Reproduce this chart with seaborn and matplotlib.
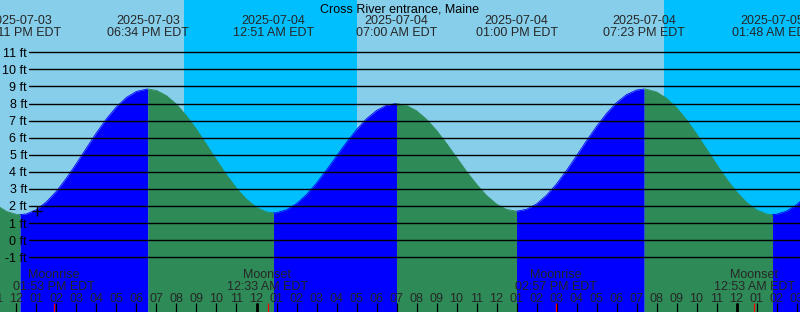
import numpy as np
import pandas as pd
import matplotlib
matplotlib.use("Agg")
import matplotlib.pyplot as plt
import seaborn as sns

# ---------------- data ----------------
title = "Cross River entrance, Maine"

# time in hours since 2025-07-03 00:00 EDT, tide level in feet
tide_hours = [11, 11.5, 12, 12.183, 12.5, 13, 13.5, 14, 14.5, 15, 15.5, 16, 16.5, 17,
              17.5, 18, 18.5, 18.567, 19, 19.5, 20, 20.5, 21, 21.5, 22, 22.5, 23, 23.5,
              24, 24.5, 24.85, 25, 25.5, 26, 26.5, 27, 27.5, 28, 28.5, 29, 29.5, 30,
              30.5, 31.0, 31.5, 32, 32.5, 33, 33.5, 34, 34.5, 35, 35.5, 36, 36.5, 37.0,
              37.5, 38, 38.5, 39, 39.5, 40, 40.5, 41, 41.5, 42, 42.5, 43, 43.383, 43.5,
              44, 44.5, 45, 45.5, 46, 46.5, 47, 47.5, 48, 48.5, 49, 49.5, 49.8, 50,
              50.5, 51, 51.5, 52]
tide_feet = [2.05, 1.69, 1.51, 1.50, 1.54, 1.79, 2.25, 2.87, 3.64, 4.50, 5.40, 6.29,
             7.11, 7.81, 8.36, 8.71, 8.84, 8.85, 8.77, 8.46, 7.96, 7.28, 6.49, 5.60,
             4.70, 3.83, 3.04, 2.40, 1.92, 1.66, 1.60, 1.61, 1.78, 2.14, 2.67, 3.34,
             4.11, 4.92, 5.73, 6.47, 7.11, 7.59, 7.90, 8.00, 7.89, 7.58, 7.08, 6.43,
             5.67, 4.85, 4.03, 3.28, 2.62, 2.12, 1.81, 1.70, 1.81, 2.12, 2.63, 3.29,
             4.08, 4.94, 5.82, 6.66, 7.42, 8.05, 8.52, 8.79, 8.85, 8.84, 8.68, 8.31,
             7.76, 7.05, 6.23, 5.34, 4.45, 3.59, 2.84, 2.22, 1.78, 1.54, 1.50, 1.52,
             1.70, 2.07, 2.60, 3.27]

extreme_hours = [12.183, 18.567, 24.85, 31.0, 37.0, 43.383, 49.8]
extreme_dates = ["2025-07-03", "2025-07-03", "2025-07-04", "2025-07-04",
                 "2025-07-04", "2025-07-04", "2025-07-05"]
extreme_clock = ["12:11 PM EDT", "06:34 PM EDT", "12:51 AM EDT", "07:00 AM EDT",
                 "01:00 PM EDT", "07:23 PM EDT", "01:48 AM EDT"]

moon_hours = [13.883, 24.55, 38.95, 48.883]
moon_events = ["Moonrise", "Moonset", "Moonrise", "Moonset"]
moon_clock = ["01:53 PM EDT", "12:33 AM EDT", "02:57 PM EDT", "12:53 AM EDT"]

night_start = [20.375, 44.375]
night_end = [29.01, 60.0]

now_hour = [13.04]
now_feet = [1.74]

level_ticks = list(range(-1, 12))
hour_ticks = list(range(11, 52))
midnight_hours = [24, 48]

# ---------------- style ----------------
sns.set_style("white")
plt.rcParams['font.family'] = ['Liberation Sans', 'DejaVu Sans']

DAY = "#87CEEB"
NIGHT = "#00BFFF"
FLOOD = "#0000FF"
EBB = "#2E8B57"

W, H = 800, 312
fig = plt.figure(figsize=(W / 100, H / 100), dpi=100)
ax = fig.add_axes([0, 0, 1, 1])
x0 = 11.175
ybot, ytop = -4.20, 14.06
fig.patch.set_facecolor(DAY)
ax.axvspan(x0 - 5, x0 + 45, color=DAY, zorder=0, lw=0)
for s, e in zip(night_start, night_end):
    ax.axvspan(s, e, color=NIGHT, zorder=0.5, lw=0)

df = pd.DataFrame({"hour": tide_hours, "feet": tide_feet})
rising = np.diff(df["feet"].values) > 0
# split into monotonic runs
runs = []
start = 0
for i in range(1, len(rising)):
    if rising[i] != rising[start]:
        runs.append((start, i, rising[start]))
        start = i
runs.append((start, len(rising), rising[start]))
for a, b, up in runs:
    seg = df.iloc[a:b + 1]
    col = FLOOD if up else EBB
    ax.fill_between(seg["hour"], seg["feet"], ybot - 5, color=col, lw=0, zorder=1)
    sns.lineplot(data=seg, x="hour", y="feet", color=col, lw=0.6, ax=ax,
                 zorder=1.1, legend=False, sort=False)

ax.set_xlim(x0, x0 + 40)
ax.set_ylim(ybot, ytop)
ax.axis("off")

# horizontal level lines and labels
ppf = H / (ytop - ybot)  # pixels per foot
for lv in level_ticks:
    ax.axhline(lv, xmin=29 / W, xmax=1, color="black", lw=1.0, zorder=2)
    ax.text(27 / W, lv - 4.4 / ppf, f"{lv} ft", transform=ax.get_yaxis_transform(),
            ha="right", va="baseline", fontsize=9, color="black", zorder=3)

xt = ax.get_xaxis_transform()


def ypx(py):
    return 1 - py / H


ax.text(0.5, ypx(12), title, transform=ax.transAxes, ha="center", va="baseline",
        fontsize=9, color="black", zorder=3)

for t, d, c in zip(extreme_hours, extreme_dates, extreme_clock):
    ax.text(t, ypx(24), d, transform=xt, ha="center", va="baseline", fontsize=9, zorder=3)
    ax.text(t, ypx(36), c, transform=xt, ha="center", va="baseline", fontsize=9, zorder=3)

for t, ev, c in zip(moon_hours, moon_events, moon_clock):
    ax.text(t, ypx(278), ev, transform=xt, ha="center", va="baseline", fontsize=9, zorder=3)
    ax.text(t, ypx(290.5), c, transform=xt, ha="center", va="baseline", fontsize=9, zorder=3)

for h in hour_ticks:
    lab = f"{(h - 1) % 12 + 1:02d}"
    ax.text(h, ypx(302), lab, transform=xt, ha="center", va="baseline", fontsize=9, zorder=3)
ax.vlines(hour_ticks, ypx(H), ypx(303), transform=xt, color="black", lw=0.9, zorder=3)
ax.vlines(midnight_hours, ypx(H), ypx(303), transform=xt, color="black", lw=2.0, zorder=3)
ax.vlines(moon_hours, ypx(H), ypx(303), transform=xt, color="red", lw=0.9, zorder=3.5)

ax.plot(now_hour, now_feet, marker="+", color="black", markersize=7, mew=1.0,
        ls="none", zorder=4)

fig.savefig("out.png", dpi=100, facecolor=fig.get_facecolor())
